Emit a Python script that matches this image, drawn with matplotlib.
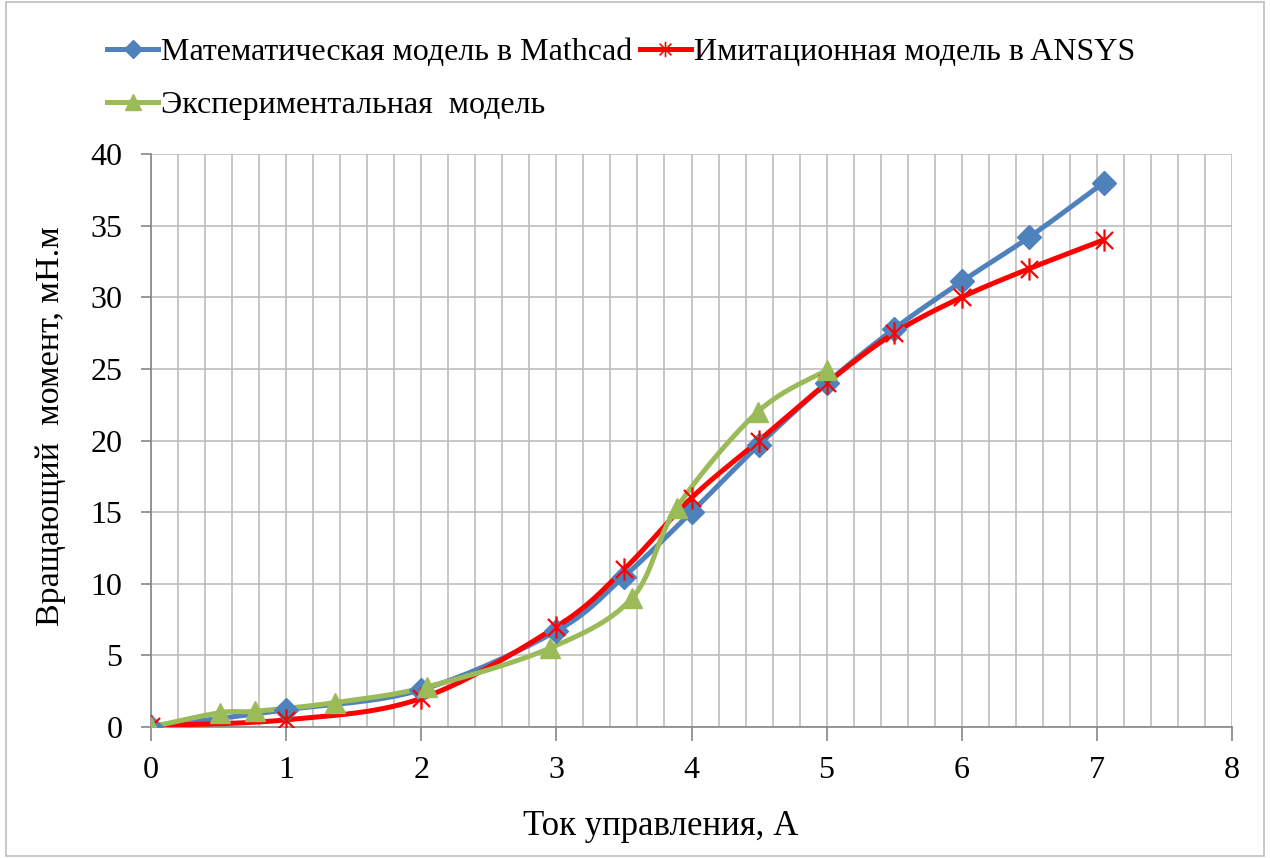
import numpy as np
import matplotlib
matplotlib.use("Agg")
import matplotlib.pyplot as plt
from matplotlib.path import Path
from matplotlib.lines import Line2D

# ---- data ----
x_math = [0, 1, 2, 3, 3.5, 4, 4.5, 5, 5.5, 6, 6.5, 7.05]
y_math = [0, 1.2, 2.6, 6.7, 10.5, 15.0, 19.7, 24.0, 27.8, 31.1, 34.2, 38.0]
x_ansys = [0, 1, 2, 3, 3.5, 4, 4.5, 5, 5.5, 6, 6.5, 7.05]
y_ansys = [0.1, 0.5, 2.0, 7.0, 11.0, 16.0, 20.0, 24.0, 27.5, 30.0, 32.0, 34.0]
x_exp = [0, 0.51, 0.77, 1.36, 2.04, 2.95, 3.56, 3.89, 4.49, 5.0]
y_exp = [0, 1.0, 1.1, 1.7, 2.8, 5.5, 9.0, 15.3, 22.0, 24.9]

labels = ["Математическая модель в Mathcad",
          "Имитационная модель в ANSYS",
          "Экспериментальная  модель"]
xlabel = "Ток управления, А"
ylabel = "Вращающий  момент, мН.м"

plt.rcParams['font.family'] = ['Liberation Serif', 'DejaVu Serif']

def smooth(xs, ys, n=30):
    # Excel-style smoothing: cubic Bezier with control points from neighbours
    P = np.column_stack([xs, ys]).astype(float)
    out = [P[0]]
    m = len(P)
    for i in range(m - 1):
        p0 = P[i - 1] if i > 0 else P[i]
        p1 = P[i]
        p2 = P[i + 1]
        p3 = P[i + 2] if i + 2 < m else P[i + 1]
        c1 = p1 + (p2 - p0) / 6.0
        c2 = p2 - (p3 - p1) / 6.0
        t = np.linspace(0, 1, n)[1:, None]
        seg = ((1 - t) ** 3) * p1 + 3 * ((1 - t) ** 2) * t * c1 + 3 * (1 - t) * t ** 2 * c2 + t ** 3 * p2
        out.extend(seg)
    out = np.array(out)
    return out[:, 0], out[:, 1]

# Excel-like star marker: X plus vertical bar
star = Path([(-1, -1), (1, 1), (-1, 1), (1, -1), (0, -1.3), (0, 1.3)],
            [Path.MOVETO, Path.LINETO, Path.MOVETO, Path.LINETO, Path.MOVETO, Path.LINETO])

blue = "#4F81BD"
red = "#FF0000"
green = "#9BBB59"

fig = plt.figure(figsize=(12.7, 8.58), dpi=100)
ax = fig.add_axes([151 / 1270, 1 - 727 / 858, (1232 - 151) / 1270, (727 - 154) / 858])

lw = 3.6
for xs, ys, c, mk, ms, mew in [
    (x_math, y_math, blue, 'D', 12, 1),
    (x_ansys, y_ansys, red, star, 16, 1.6),
    (x_exp, y_exp, green, '^', 15, 1),
]:
    sx, sy = smooth(xs, ys)
    ax.plot(sx, sy, color=c, lw=lw, solid_capstyle='round', zorder=3)
    if mk is star:
        ax.plot(xs, ys, ls='none', marker=mk, ms=ms, mec=c, mfc='none', mew=mew, zorder=4)
    else:
        ax.plot(xs, ys, ls='none', marker=mk, ms=ms, mec=c, mfc=c, mew=mew, zorder=4)

ax.set_xlim(0, 8)
ax.set_ylim(0, 40)
ax.set_xticks(range(0, 9))
ax.set_yticks(range(0, 41, 5))
ax.set_xticks(np.arange(0, 8.01, 0.2), minor=True)
ax.tick_params(axis='x', which='minor', length=0)
ax.grid(True, which='both', axis='x', color='#BEBEBE', lw=1.2)
ax.grid(True, which='major', axis='y', color='#BEBEBE', lw=1.2)
ax.set_axisbelow(True)
for s in ['top', 'right']:
    ax.spines[s].set_visible(False)
for s in ['left', 'bottom']:
    ax.spines[s].set_color('#868686')
    ax.spines[s].set_linewidth(1.2)
ax.tick_params(axis='both', which='major', direction='out', color='#868686',
               labelsize=23, width=1.2)
ax.tick_params(axis='x', length=10, pad=11)
ax.tick_params(axis='y', length=7.5, pad=13)
ax.set_xlabel(xlabel, fontsize=25)
ax.set_ylabel(ylabel, fontsize=24.5)
ax.xaxis.set_label_coords((661 - 151) / 1081, (727 - 810) / 573)
ax.yaxis.set_label_coords((66 - 151) / 1081, (727 - 426) / 573)

handles = [
    Line2D([], [], color=blue, lw=lw, marker='D', ms=9, mfc=blue, mec=blue),
    Line2D([], [], color=red, lw=lw, marker=star, ms=11, mfc='none', mec=red, mew=1.2),
    Line2D([], [], color=green, lw=lw, marker='^', ms=11, mfc=green, mec=green),
]
order = [0, 2, 1]
leg = fig.legend([handles[i] for i in order], [labels[i] for i in order],
                 ncol=2, loc='upper left', bbox_to_anchor=(107 / 1270, 1 - 38 / 858),
                 frameon=False, fontsize=23, handlelength=1.6, handletextpad=0.08,
                 columnspacing=0.25, labelspacing=0.72, borderaxespad=0, borderpad=0)

fig.patches.append(plt.Rectangle((6 / 1270, 0.002), 1 - 12 / 1270, 0.996, transform=fig.transFigure,
                                 fill=False, edgecolor='#BFBFBF', lw=1.2))
fig.savefig("out.png", dpi=100)
